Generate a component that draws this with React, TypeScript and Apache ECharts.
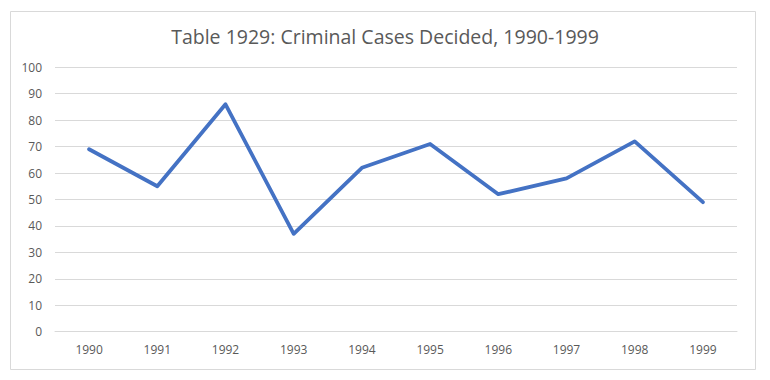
import React, { useEffect, useRef } from "react";
import * as echarts from "echarts";

const titleText = "Table 1929: Criminal Cases Decided, 1990-1999";
const years = ["1990", "1991", "1992", "1993", "1994", "1995", "1996", "1997", "1998", "1999"];
const cases = [69, 55, 86, 37, 62, 71, 52, 58, 72, 49];

export default function App() {
  const ref = useRef<HTMLDivElement>(null);
  useEffect(() => {
    if (!ref.current) return;
    const chart = echarts.init(ref.current, null, { renderer: "svg" });
    chart.setOption({
      animation: false,
      backgroundColor: "#ffffff",
      title: {
        text: titleText,
        left: "center",
        top: 21,
        textStyle: { fontFamily: "Open Sans", fontSize: 19.5, fontWeight: "normal", color: "#595959" },
      },
      graphic: [
        {
          type: "rect",
          shape: { x: 10.5, y: 11.5, width: 745, height: 358 },
          style: { fill: "none", stroke: "#d9d9d9", lineWidth: 1 },
          silent: true,
        },
      ],
      grid: { left: 55, right: 33, top: 67.3, bottom: 48.3, containLabel: false },
      xAxis: {
        type: "category",
        data: years,
        boundaryGap: true,
        axisLine: { show: true, lineStyle: { color: "#d9d9d9", width: 1 } },
        axisTick: { show: false },
        axisLabel: { color: "#595959", fontFamily: "Open Sans", fontSize: 12, margin: 12 },
      },
      yAxis: {
        type: "value",
        min: 0,
        max: 100,
        interval: 10,
        axisLine: { show: false },
        axisTick: { show: false },
        splitLine: { lineStyle: { color: "#d9d9d9", width: 1 } },
        axisLabel: { color: "#595959", fontFamily: "Open Sans", fontSize: 12, margin: 13 },
      },
      series: [
        {
          type: "line",
          data: cases,
          symbol: "none",
          lineStyle: { color: "#4472c4", width: 3.8, cap: "round", join: "round" },
        },
      ],
    });
    return () => chart.dispose();
  }, []);
  return (
    <div
      ref={ref}
      style={{ position: "absolute", left: 0, top: 0, width: 770, height: 380 }}
    />
  );
}
